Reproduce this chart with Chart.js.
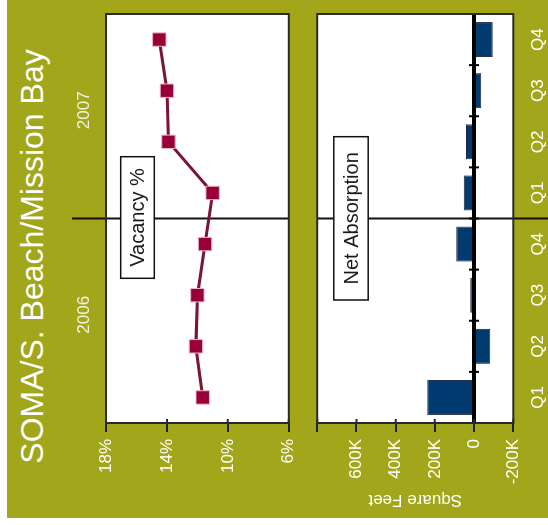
<!DOCTYPE html>
<html>
<head>
<meta charset="utf-8">
<script src="https://cdn.jsdelivr.net/npm/chart.js@4.4.1/dist/chart.umd.min.js"></script>
<style>
  html, body { margin: 0; padding: 0; background: #ffffff; width: 548px; height: 525px; overflow: hidden; }
  /* the page is laid out upright, then turned a quarter turn counter-clockwise */
  #frame { position: absolute; left: 0; top: 0; width: 525px; height: 548px;
           transform-origin: 0 0; transform: translate(0, 525px) rotate(-90deg); }
  #bg { position: absolute; left: 7px; top: 7px; width: 518px; height: 541px; background: #a1a61a; }
  #title { position: absolute; left: 0; top: 16px; width: 537px; text-align: center;
           font: 32px/32px "Liberation Sans", Arial, sans-serif; color: #ffffff; white-space: nowrap; }
  .box { position: absolute; left: 0; width: 525px; }
</style>
</head>
<body>
<div id="frame">
  <div id="bg"></div>
  <div id="title">SOMA/S. Beach/Mission Bay</div>
  <div class="box" style="top:0;height:306px"><canvas id="vacancy"></canvas></div>
  <div class="box" style="top:300px;height:248px"><canvas id="absorption"></canvas></div>
</div>
<script>
// Quarterly market data, 2006–2007
const quarters = ['Q1', 'Q2', 'Q3', 'Q4', 'Q1', 'Q2', 'Q3', 'Q4'];
const years = ['2006', '2007'];
const vacancyPct = [11.65, 12.1, 12.0, 11.5, 11.0, 13.9, 14.0, 14.5];
const netAbsorptionSqFt = [239000, -83000, 19000, 91000, 53000, 41000, -36000, -95000];
const vacancyTicks = [6, 10, 14, 18];
const absorptionTicks = [-200000, 0, 200000, 400000, 600000, 800000];

Chart.defaults.font.family = '"Liberation Sans", Arial, sans-serif';
Chart.defaults.animation = false;

const FONT = { size: 17 };
const AXIS_W = 102;

function fmtK(v) {
  if (v === 800000) return '';
  if (v === 0) return '0';
  return (v / 1000) + 'K';
}

// white plot area, dark frame, inward tick stubs, boundary between the two years
function panelPlugin(opts) {
  return {
    id: 'panel_' + opts.name,
    beforeDraw(chart) {
      const a = chart.chartArea, ctx = chart.ctx;
      ctx.save();
      ctx.fillStyle = '#ffffff';
      ctx.fillRect(a.left, a.top, a.right - a.left, a.bottom - a.top);
      ctx.restore();
    },
    beforeDatasetsDraw(chart) {
      const ctx = chart.ctx, x = chart.scales.x;
      const xs = (x.getPixelForValue(3) + x.getPixelForValue(4)) / 2;
      ctx.save();
      ctx.strokeStyle = '#111111';
      ctx.lineWidth = 2;
      ctx.beginPath();
      ctx.moveTo(xs, opts.sepTop(chart));
      ctx.lineTo(xs, opts.sepBottom(chart));
      ctx.stroke();
      ctx.restore();
    },
    afterDatasetsDraw(chart) {
      if (opts.afterBars) opts.afterBars(chart);
    },
    afterDraw(chart) {
      const a = chart.chartArea, ctx = chart.ctx, y = chart.scales.y;
      ctx.save();
      ctx.strokeStyle = '#2a2a2a';
      ctx.lineWidth = 2;
      ctx.strokeRect(a.left, a.top, a.right - a.left, a.bottom - a.top);
      ctx.beginPath();
      y.ticks.forEach(t => {
        const py = y.getPixelForValue(t.value);
        ctx.moveTo(a.left, py);
        ctx.lineTo(a.left + 4, py);
      });
      ctx.stroke();
      // series label box
      const bx = a.left + opts.label.dx, by = a.top + opts.label.dy;
      ctx.fillStyle = '#ffffff';
      ctx.fillRect(bx, by, opts.label.w, opts.label.h);
      ctx.strokeStyle = '#111111';
      ctx.lineWidth = 1.5;
      ctx.strokeRect(bx, by, opts.label.w, opts.label.h);
      ctx.fillStyle = '#1a1a1a';
      ctx.font = '20px "Liberation Sans", Arial, sans-serif';
      ctx.textAlign = 'center';
      ctx.textBaseline = 'middle';
      ctx.fillText(opts.label.text, bx + opts.label.w / 2, by + opts.label.h / 2 + 1);
      ctx.restore();
    }
  };
}

new Chart(document.getElementById('vacancy'), {
  type: 'line',
  data: {
    labels: quarters,
    datasets: [{
      label: 'Vacancy %',
      data: vacancyPct,
      borderColor: '#7c1436',
      borderWidth: 3,
      pointStyle: 'rect',
      pointRadius: 9.5,
      pointBackgroundColor: '#99003a',
      pointBorderColor: '#eab6c6',
      pointBorderWidth: 1,
      tension: 0
    }]
  },
  options: {
    responsive: true,
    maintainAspectRatio: false,
    layout: { padding: { left: 0, right: 14, top: 0, bottom: 0 } },
    plugins: { legend: { display: false }, tooltip: { enabled: false } },
    scales: {
      x: { display: false, offset: true },
      x2: {
        type: 'category', labels: years, position: 'top', offset: true,
        grid: { display: false, drawTicks: false }, border: { display: false },
        ticks: { color: '#f2f2e4', font: FONT, padding: 11, labelOffset: 6 },
        afterFit(s) { s.height = 106; }
      },
      y: {
        min: 6, max: 18,
        afterBuildTicks(s) { s.ticks = vacancyTicks.map(v => ({ value: v })); },
        ticks: { callback: v => v + '%', color: '#ffffff', font: FONT, padding: 7 },
        grid: { drawOnChartArea: false, tickLength: 9, color: '#222222', lineWidth: 2 },
        border: { display: false },
        afterFit(s) { s.width = AXIS_W; }
      }
    }
  },
  plugins: [panelPlugin({
    name: 'vac',
    sepTop: () => 72,
    sepBottom: c => c.chartArea.bottom,
    label: { text: 'Vacancy %', dx: 144.7, dy: 14.7, w: 121.6, h: 33.6 }
  })]
});

new Chart(document.getElementById('absorption'), {
  type: 'bar',
  data: {
    labels: quarters,
    datasets: [{
      label: 'Net Absorption',
      data: netAbsorptionSqFt,
      backgroundColor: '#003a6e',
      borderColor: '#1c2640',
      borderWidth: 1,
      barPercentage: 0.685,
      categoryPercentage: 1
    }]
  },
  options: {
    responsive: true,
    maintainAspectRatio: false,
    layout: { padding: { left: 0, right: 14, top: 16.7, bottom: 0 } },
    plugins: { legend: { display: false }, tooltip: { enabled: false } },
    scales: {
      x: {
        grid: { display: false, drawTicks: false }, border: { display: false },
        ticks: { color: '#ffffff', font: FONT, padding: 14.5, autoSkip: false, maxRotation: 0 },
        afterFit(s) { s.height = 34.7; }
      },
      y: {
        min: -200000, max: 800000,
        afterBuildTicks(s) { s.ticks = absorptionTicks.map(v => ({ value: v })); },
        ticks: { callback: v => fmtK(v), color: '#ffffff', font: FONT, padding: 7 },
        grid: { drawOnChartArea: false, tickLength: 9, color: '#222222', lineWidth: 2 },
        border: { display: false },
        title: { display: true, text: 'Square Feet', color: '#ffffff', font: FONT, padding: { top: 15, bottom: 0 } },
        afterFit(s) { s.width = AXIS_W; }
      }
    }
  },
  plugins: [panelPlugin({
    name: 'abs',
    sepTop: c => c.chartArea.top,
    sepBottom: c => c.height,
    afterBars(chart) {
      const a = chart.chartArea, ctx = chart.ctx, x = chart.scales.x, y = chart.scales.y;
      const y0 = y.getPixelForValue(0);
      ctx.save();
      ctx.strokeStyle = '#000000';
      ctx.lineWidth = 4;
      ctx.beginPath();
      ctx.moveTo(a.left, y0);
      ctx.lineTo(a.right, y0);
      ctx.stroke();
      ctx.lineWidth = 2;
      ctx.beginPath();
      for (let i = 0; i < quarters.length - 1; i++) {
        const bx = (x.getPixelForValue(i) + x.getPixelForValue(i + 1)) / 2;
        ctx.moveTo(bx, y0 - 5);
        ctx.lineTo(bx, y0 + 5);
      }
      ctx.stroke();
      ctx.restore();
    },
    label: { text: 'Net Absorption', dx: 123, dy: 16.6, w: 163.3, h: 34.4 }
  })]
});
</script>
</body>
</html>
